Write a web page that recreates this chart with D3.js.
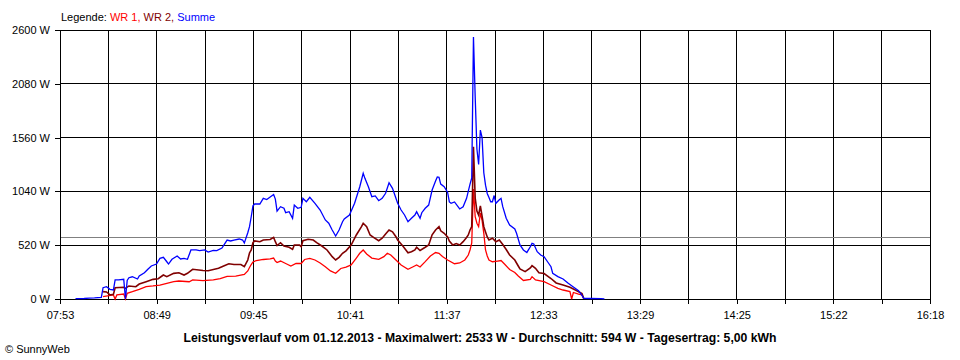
<!DOCTYPE html>
<html><head><meta charset="utf-8">
<script src="https://cdn.jsdelivr.net/npm/d3@7"></script>
<style>
html,body{margin:0;padding:0;background:#fff;}
svg{display:block;font-family:"Liberation Sans",Arial,sans-serif;}
</style></head><body>
<svg id="c" width="960" height="360"></svg>
<script>
// ---- data ----
const xTickLabels = ["07:53","08:49","09:45","10:41","11:37","12:33","13:29","14:25","15:22","16:18"];
const yTicks = [0,520,1040,1560,2080,2600];
const averageW = 594;
const legendItems = ["WR 1", "WR 2", "Summe"];
const titleText = "Leistungsverlauf vom 01.12.2013 - Maximalwert: 2533 W - Durchschnitt: 594 W - Tagesertrag: 5,00 kWh";

const summeTime = ["08:02","08:07","08:10","08:13","08:17","08:18","08:20","08:22","08:24","08:25","08:27","08:30","08:31","08:32","08:33","08:35","08:38","08:39","08:42","08:44","08:46","08:49","08:51","08:53","08:55","08:56","08:58","09:01","09:03","09:05","09:07","09:09","09:12","09:14","09:17","09:19","09:22","09:24","09:27","09:30","09:32","09:34","09:37","09:39","09:40","09:42","09:43","09:44","09:45","09:46","09:49","09:51","09:53","09:55","09:57","09:58","09:59","10:01","10:03","10:04","10:06","10:08","10:09","10:11","10:13","10:14","10:16","10:18","10:21","10:24","10:27","10:29","10:31","10:33","10:35","10:37","10:38","10:41","10:44","10:47","10:49","10:50","10:52","10:54","10:56","10:58","11:00","11:02","11:04","11:06","11:08","11:09","11:11","11:13","11:15","11:17","11:19","11:20","11:22","11:23","11:25","11:27","11:29","11:31","11:32","11:33","11:34","11:36","11:38","11:39","11:40","11:42","11:45","11:47","11:49","11:51","11:52","11:53","11:54","11:55","11:56","11:57","11:58","11:59","12:00","12:01","12:02","12:03","12:04","12:05","12:06","12:08","12:09","12:10","12:12","12:14","12:17","12:18","12:20","12:22","12:24","12:26","12:27","12:28","12:30","12:32","12:34","12:36","12:38","12:39","12:42","12:45","12:48","12:51","12:54","12:56","12:57","13:01","13:07","13:09"];
const summeW = [3,5,8,10,15,109,119,94,87,184,184,190,0,180,206,215,193,222,254,287,319,338,393,403,360,338,384,416,387,393,384,474,474,467,474,454,469,467,493,570,561,570,580,570,541,640,699,795,900,918,918,973,961,986,1010,966,850,892,877,834,844,780,908,877,886,973,940,983,925,860,764,732,667,609,667,747,773,812,925,1085,1215,1166,1085,989,996,950,973,1022,1124,1070,973,925,860,812,747,780,812,844,780,834,877,908,1053,1140,1180,1176,1111,1085,1030,938,925,938,870,892,973,1111,1169,2533,1955,1450,1300,1633,1560,1220,1100,1020,981,940,940,1000,925,960,973,892,780,715,677,635,522,474,450,505,538,532,457,425,409,360,312,248,216,193,152,116,80,34,7,5,3,2];

const wr2Time = ["08:18","08:20","08:22","08:24","08:25","08:30","08:31","08:33","08:37","08:39","08:43","08:47","08:50","08:53","08:55","08:59","09:02","09:05","09:07","09:10","09:16","09:19","09:22","09:25","09:28","09:31","09:34","09:38","09:40","09:42","09:43","09:44","09:45","09:46","09:49","09:51","09:55","09:57","09:58","09:59","10:01","10:03","10:06","10:08","10:09","10:12","10:13","10:14","10:17","10:20","10:22","10:25","10:28","10:31","10:33","10:35","10:37","10:39","10:42","10:45","10:48","10:49","10:51","10:53","10:55","10:58","11:00","11:02","11:04","11:06","11:08","11:09","11:12","11:15","11:17","11:19","11:20","11:22","11:25","11:27","11:29","11:31","11:33","11:34","11:36","11:38","11:39","11:41","11:43","11:45","11:47","11:49","11:50","11:51","11:52","11:53","11:54","11:55","11:56","11:57","11:58","11:59","12:00","12:01","12:02","12:04","12:06","12:08","12:10","12:12","12:14","12:17","12:19","12:20","12:23","12:26","12:27","12:29","12:31","12:34","12:38","12:41","12:45","12:49","12:53","12:56","12:57"];
const wr2W = [71,68,39,45,109,113,103,126,119,145,167,190,196,232,216,248,254,232,248,287,275,273,285,297,319,341,333,333,312,377,445,474,544,561,554,570,575,596,554,517,544,512,500,480,522,522,505,563,577,570,544,512,474,409,377,403,442,466,522,619,699,732,699,619,596,563,587,628,667,650,602,570,512,447,457,474,500,469,500,522,620,667,699,659,635,600,561,522,536,522,554,594,619,667,699,1472,976,850,812,900,800,699,648,600,570,587,554,570,527,478,425,377,319,290,264,300,322,297,254,246,198,155,135,113,80,53,5];

const wr1Time = ["08:18","08:24","08:25","08:26","08:30","08:31","08:32","08:35","08:39","08:43","08:47","08:51","08:55","08:59","09:02","09:08","09:10","09:16","09:22","09:26","09:30","09:35","09:40","09:42","09:43","09:44","09:45","09:47","09:51","09:55","09:57","09:58","09:59","10:01","10:04","10:07","10:10","10:13","10:15","10:18","10:21","10:24","10:27","10:30","10:33","10:36","10:39","10:42","10:45","10:47","10:49","10:51","10:54","10:58","11:01","11:03","11:05","11:08","11:11","11:15","11:18","11:20","11:22","11:25","11:28","11:31","11:33","11:35","11:38","11:42","11:45","11:48","11:50","11:51","11:52","11:53","11:54","11:55","11:56","11:57","11:58","11:59","12:00","12:01","12:02","12:04","12:07","12:09","12:11","12:14","12:17","12:19","12:22","12:26","12:27","12:29","12:34","12:38","12:42","12:45","12:49","12:50","12:51","12:54","12:56","12:57"];
const wr1W = [22,39,0,39,48,0,55,71,94,119,126,135,152,167,174,167,184,177,184,196,219,222,237,271,304,333,358,372,382,387,396,367,353,367,343,319,343,343,382,393,377,348,312,271,248,295,309,329,396,442,474,435,396,384,409,442,425,377,329,287,312,329,309,361,416,449,442,410,377,341,348,377,425,474,541,1063,795,732,699,830,760,635,474,416,377,360,367,372,338,285,256,222,179,190,216,184,167,135,103,87,71,0,63,48,39,5];

// ---- chart ----
const plot = {left: 60, right: 930, top: 30, bottom: 299};
const toMin = s => { const p = s.split(":").map(Number); return p[0]*60 + p[1]; };
const tStart = toMin(xTickLabels[0]), tEnd = toMin(xTickLabels[xTickLabels.length-1]);
const x = d3.scaleLinear().domain([tStart, tEnd]).range([plot.left, plot.right]);
const y = d3.scaleLinear().domain([0, yTicks[yTicks.length-1]]).range([plot.bottom, plot.top]);

const nIntervals = (xTickLabels.length - 1) * 2;
const gridTimes = d3.range(nIntervals + 1).map(i => tStart + i * (tEnd - tStart) / nIntervals);

const svg = d3.select("#c");

// gridlines
const grid = svg.append("g").attr("stroke", "#000").attr("stroke-width", 1).attr("shape-rendering", "crispEdges");
grid.selectAll("line.v").data(gridTimes).join("line")
  .attr("x1", d => x(d)).attr("x2", d => x(d)).attr("y1", y(yTicks[yTicks.length-1])).attr("y2", y(0));
grid.selectAll("line.h").data(yTicks).join("line")
  .attr("x1", plot.left).attr("x2", plot.right).attr("y1", d => y(d)).attr("y2", d => y(d));

// average line
svg.append("line").attr("x1", plot.left).attr("x2", plot.right)
  .attr("y1", y(averageW)).attr("y2", y(averageW))
  .attr("stroke", "#808080").attr("stroke-width", 1).attr("shape-rendering", "crispEdges");

// axes
const yAxis = svg.append("g").attr("transform", `translate(${plot.left},0)`)
  .call(d3.axisLeft(y).tickValues(yTicks).tickSize(5).tickSizeOuter(0).tickPadding(5).tickFormat(d => d + " W"));
const xAxis = svg.append("g").attr("transform", `translate(0,${plot.bottom})`)
  .call(d3.axisBottom(x).tickValues(gridTimes).tickSize(5).tickSizeOuter(0).tickPadding(7)
    .tickFormat((d, i) => i % 2 === 0 ? xTickLabels[i / 2] : ""));
[yAxis, xAxis].forEach(g => {
  g.attr("font-family", "Liberation Sans, Arial, sans-serif").attr("font-size", 11);
  g.selectAll("line,path").attr("stroke", "#000").attr("stroke-width", 1).attr("shape-rendering", "crispEdges");
  g.selectAll("text").attr("fill", "#000");
});

// series
const series = [
  {time: wr1Time, vals: wr1W, color: "#ff0000", w: 1.3},
  {time: wr2Time, vals: wr2W, color: "#800000", w: 1.6},
  {time: summeTime, vals: summeW, color: "#0000ff", w: 1.3}
];
const line = d3.line().x(d => x(d[0])).y(d => y(d[1]));
series.forEach(s => {
  const pts = s.time.map((t, i) => [toMin(t), s.vals[i]]);
  svg.append("path").attr("d", line(pts)).attr("fill", "none")
    .attr("stroke", s.color).attr("stroke-width", s.w).attr("stroke-linejoin", "miter");
});

// legend
const leg = svg.append("text").attr("x", 61).attr("y", 21).attr("font-size", 11);
leg.append("tspan").attr("fill", "#000").text("Legende: ");
leg.append("tspan").attr("fill", "#ff0000").text(legendItems[0] + ", ");
leg.append("tspan").attr("fill", "#800000").text(legendItems[1] + ", ");
leg.append("tspan").attr("fill", "#0000ff").text(legendItems[2]);

// title
svg.append("text").attr("x", 480).attr("y", 341.5).attr("text-anchor", "middle")
  .attr("font-size", 12).attr("font-weight", "bold").attr("fill", "#000")
  .attr("textLength", 593).attr("lengthAdjust", "spacingAndGlyphs").text(titleText);

// copyright
svg.append("text").attr("x", 5).attr("y", 353).attr("font-size", 11).attr("fill", "#000").text("© SunnyWeb");
</script>
</body></html>
